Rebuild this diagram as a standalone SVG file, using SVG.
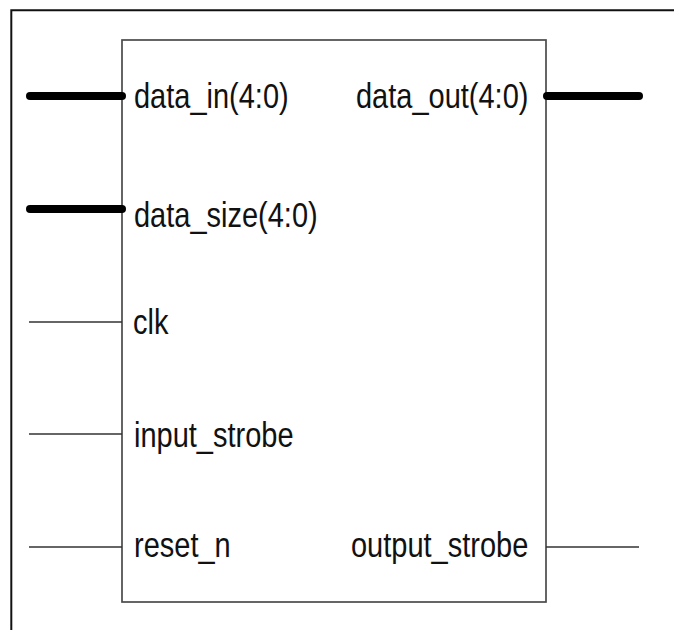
<svg xmlns="http://www.w3.org/2000/svg" width="674" height="630" viewBox="0 0 674 630">
  <style>
    .frame { fill: none; stroke: #111; stroke-width: 2; }
    .body { fill: #fff; stroke: #4a4a4a; stroke-width: 1.7; }
    .bus { stroke: #000; stroke-width: 8; stroke-linecap: round; fill: none; }
    .wire { stroke: #333; stroke-width: 1.6; fill: none; }
    .lbl { font-family: "Liberation Sans", Arial, sans-serif; font-size: 29px; fill: #111; }
  </style>
  <rect width="674" height="630" fill="#fff"/>

  <!-- sheet frame -->
  <path class="frame" d="M11.3,630 V10.3 H674"/>

  <!-- entity block -->
  <g id="block">
    <rect class="body" x="122" y="40" width="424" height="562"/>
  </g>

  <!-- port connectors -->
  <g id="connectors">
    <line class="bus" x1="30" y1="96" x2="122" y2="96"/>
    <line class="bus" x1="30" y1="209" x2="122" y2="209"/>
    <line class="wire" x1="29" y1="322" x2="122" y2="322"/>
    <line class="wire" x1="29" y1="434" x2="122" y2="434"/>
    <line class="wire" x1="29" y1="547" x2="122" y2="547"/>
    <line class="bus" x1="547" y1="96" x2="639" y2="96"/>
    <line class="wire" x1="546" y1="547" x2="639" y2="547"/>
  </g>

  <!-- port labels -->
  <g id="port-data_in"><text class="lbl" transform="translate(134,108) scale(1,1.2)">data_in(4:0)</text></g>
  <g id="port-data_size"><text class="lbl" transform="translate(134,227) scale(1,1.2)">data_size(4:0)</text></g>
  <g id="port-clk"><text class="lbl" transform="translate(133,334) scale(1,1.2)">clk</text></g>
  <g id="port-input_strobe"><text class="lbl" transform="translate(134,447) scale(1,1.2)">input_strobe</text></g>
  <g id="port-reset_n"><text class="lbl" transform="translate(134,557) scale(1,1.2)">reset_n</text></g>
  <g id="port-data_out"><text class="lbl" transform="translate(356,108) scale(1,1.2)">data_out(4:0)</text></g>
  <g id="port-output_strobe"><text class="lbl" transform="translate(351,557) scale(1,1.2)">output_strobe</text></g>
</svg>
